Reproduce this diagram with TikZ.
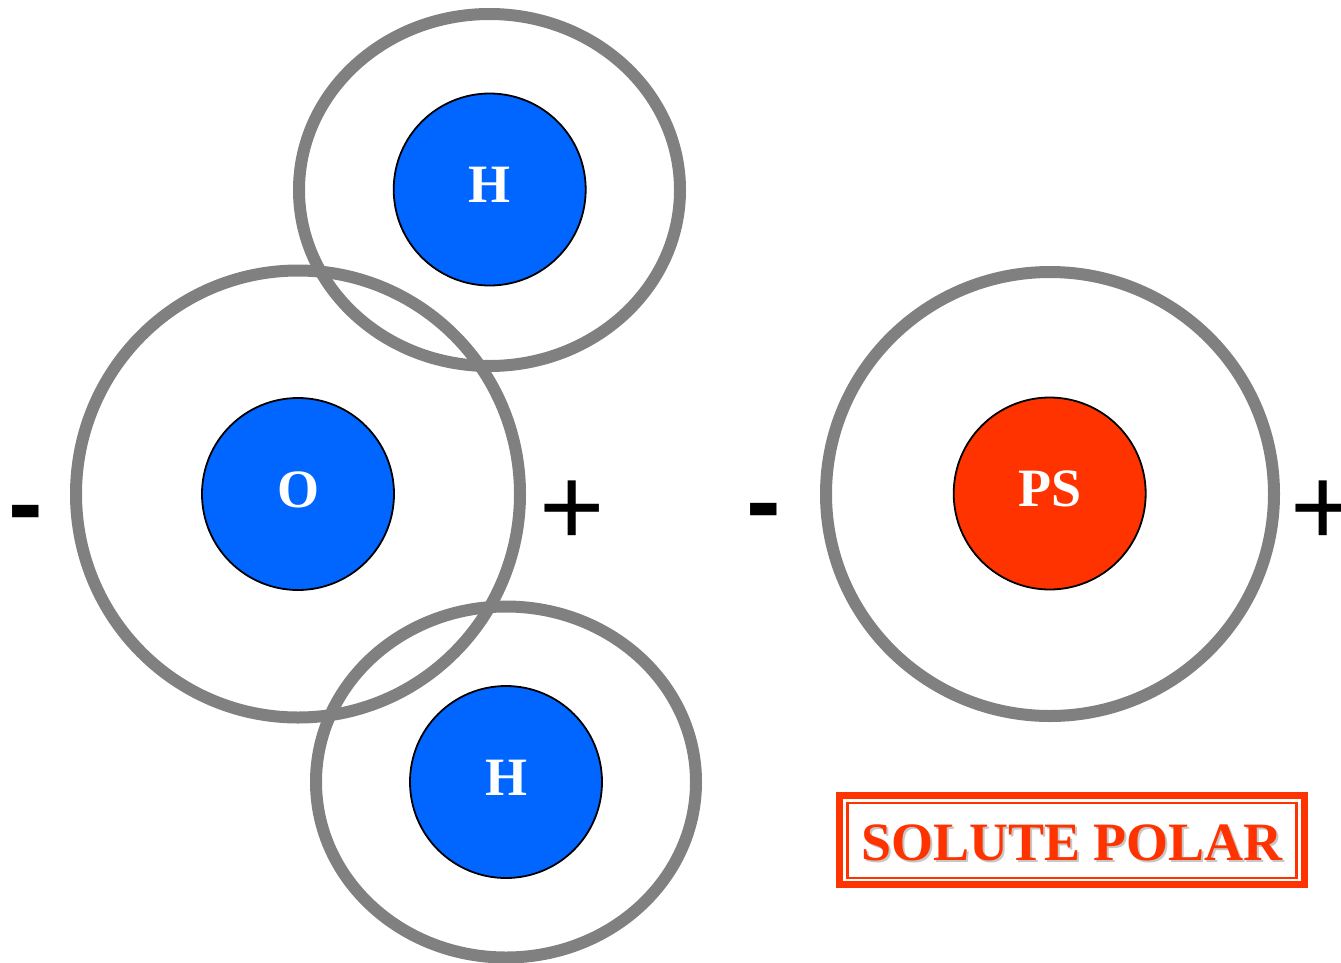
\documentclass[tikz,border=0pt]{standalone}
\usepackage{fontspec}
\setmainfont{Liberation Serif}
\newfontfamily\signfont{Liberation Sans}
\definecolor{ringgray}{HTML}{808080}
\definecolor{atomblue}{HTML}{0066FF}
\definecolor{psred}{HTML}{FF3300}
\begin{document}
\begin{tikzpicture}[x=1pt,y=-1pt,
  ring/.style={draw=ringgray,line width=12pt},
  atom/.style={circle,draw=black,line width=1.8pt,minimum size=192pt,inner sep=0pt},
  atomlabel/.style={text=white,font=\fontsize{54}{54}\selectfont\bfseries,anchor=base,inner sep=0pt},
  sign/.style={font=\signfont\fontsize{112}{112}\selectfont,anchor=base,inner sep=0pt},
  minussign/.style={font=\signfont\bfseries\fontsize{104}{104}\selectfont,anchor=base,inner sep=0pt},
  framebox/.style={draw=psred,line width=7pt},
  framethin/.style={draw=psred,line width=2.5pt},
  titletext/.style={font=\fontsize{54}{54}\selectfont\bfseries,anchor=base,inner sep=0pt}]
\useasboundingbox (0,0) rectangle (1341,962);
% rings
\draw[ring] (489.5,190) ellipse [x radius=190.5,y radius=176];
\draw[ring] (298,494) ellipse [x radius=222,y radius=223.5];
\draw[ring] (506,782) ellipse [x radius=190,y radius=175.5];
\draw[ring] (1050,494) ellipse [x radius=224,y radius=222];
% atoms
\node[atom,fill=atomblue] (h1) at (489.7,189.5) {};
\node[atom,fill=atomblue] (o) at (298,494) {};
\node[atom,fill=atomblue] (h2) at (506,782) {};
\node[atom,fill=psred] (ps) at (1049.7,493.5) {};
\node[atomlabel] (h1l) at ([yshift=-13pt]h1.center) {H};
\node[atomlabel] (ol) at ([yshift=-13pt]o.center) {O};
\node[atomlabel] (h2l) at ([yshift=-13pt]h2.center) {H};
\node[atomlabel] (psl) at ([yshift=-13pt]ps.center) {PS};
% signs
\node[minussign] (m1) at (26,538) {-};
\node[sign] (p1) at (572,545) {+};
\node[minussign] (m2) at (764,536) {-};
\node[sign] (p2) at (1323,545) {+};
% label box
\draw[framebox] (839.5,795.5) rectangle (1304.5,884.5);
\draw[framethin] (847.5,803) rectangle (1296.5,878);
\node[titletext,text=black!22] (tshadow) at (1074,862) {SOLUTE POLAR};
\node[titletext,text=psred] (title) at (1072,860) {SOLUTE POLAR};
\end{tikzpicture}
\end{document}
